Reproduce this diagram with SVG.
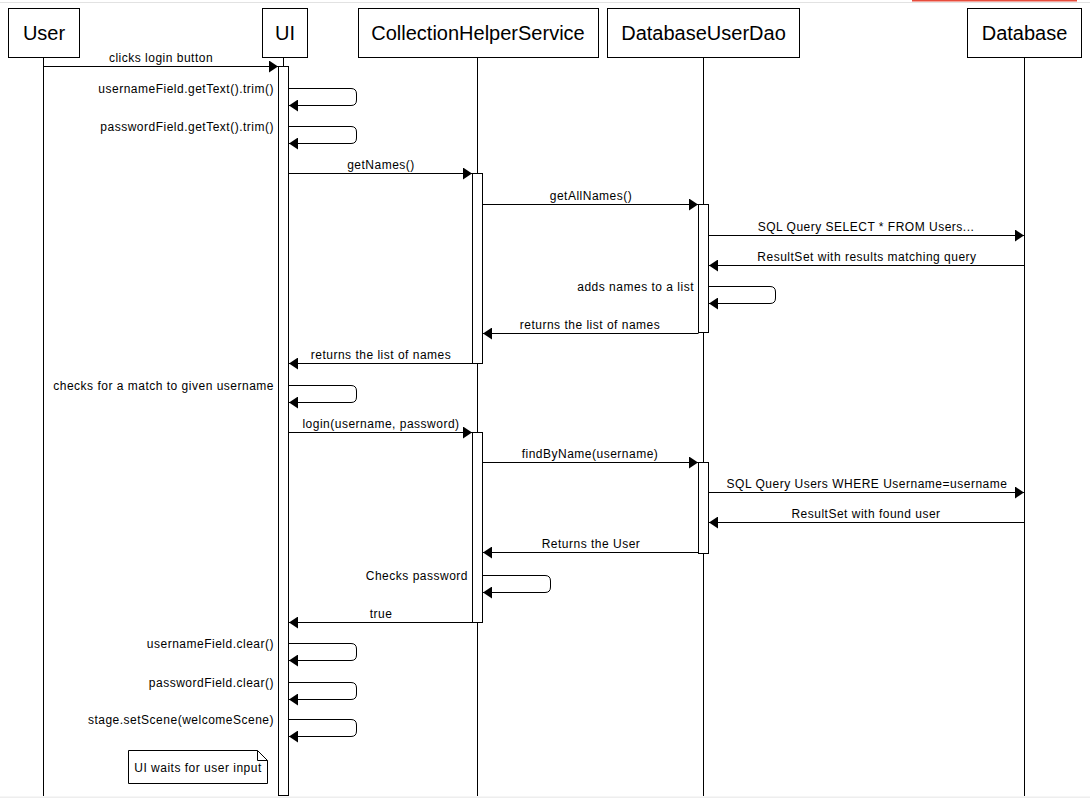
<svg xmlns="http://www.w3.org/2000/svg" width="1090" height="798" viewBox="0 0 1090 798">
<style>
.box{fill:#fff;stroke:#000;stroke-width:1}
.hd{font-family:"Liberation Sans",Arial,sans-serif;font-size:20px;text-anchor:middle;fill:#000}
.ll{stroke:#000;stroke-width:1;fill:none}
.act{fill:#fff;stroke:#000;stroke-width:1}
.msg{stroke:#000;stroke-width:1;fill:none}
.lb{font-family:"Liberation Sans",Arial,sans-serif;font-size:12px;letter-spacing:0.5px;fill:#000}
.c{text-anchor:middle}
.r{text-anchor:end}
</style>
<defs>
<marker id="ah" markerWidth="10" markerHeight="12" refX="9" refY="6" orient="auto" markerUnits="userSpaceOnUse">
<path d="M0,0 L9,6 L0,12 Z" fill="#000"/>
</marker>
</defs>
<rect x="0" y="0" width="1090" height="798" fill="#fff"/>
<rect x="0" y="2" width="1090" height="1" fill="#e2e2e2"/>
<rect x="912" y="0" width="165" height="1.5" fill="#e74c3c"/>
<rect x="0" y="796.5" width="1090" height="1.5" fill="#eeeeee"/>

<g id="lifelines">
<line class="ll" x1="43.5" y1="57" x2="43.5" y2="796"/>
<line class="ll" x1="283.5" y1="57" x2="283.5" y2="796"/>
<line class="ll" x1="477.5" y1="57" x2="477.5" y2="796"/>
<line class="ll" x1="703.5" y1="57" x2="703.5" y2="796"/>
<line class="ll" x1="1024.5" y1="57" x2="1024.5" y2="796"/>
</g>

<g id="node-user"><rect class="box" x="8.5" y="8.5" width="71" height="49"/><text class="hd" x="44" y="40">User</text></g>
<g id="node-ui"><rect class="box" x="262.5" y="8.5" width="45" height="49"/><text class="hd" x="285" y="40">UI</text></g>
<g id="node-chs"><rect class="box" x="358.5" y="8.5" width="240" height="49"/><text class="hd" x="478" y="40">CollectionHelperService</text></g>
<g id="node-dao"><rect class="box" x="607.5" y="8.5" width="192" height="49"/><text class="hd" x="703.5" y="40">DatabaseUserDao</text></g>
<g id="node-db"><rect class="box" x="967.5" y="8.5" width="114" height="49"/><text class="hd" x="1024.5" y="40">Database</text></g>

<g id="activations">
<rect class="act" x="278.5" y="66.5" width="10" height="729"/>
<rect class="act" x="472.5" y="173.5" width="10" height="190"/>
<rect class="act" x="698.5" y="204.5" width="10" height="128"/>
<rect class="act" x="472.5" y="432.5" width="10" height="190"/>
<rect class="act" x="698.5" y="462.5" width="10" height="91"/>
</g>

<g id="connectors">
<line class="msg" x1="43.5" y1="66.5" x2="278" y2="66.5" marker-end="url(#ah)"/>
<path class="msg" d="M288.5,88.5 H351 Q356.5,88.5 356.5,94 V100 Q356.5,105.5 351,105.5 H289" marker-end="url(#ah)"/>
<path class="msg" d="M288.5,126.5 H351 Q356.5,126.5 356.5,132 V138 Q356.5,143.5 351,143.5 H289" marker-end="url(#ah)"/>
<line class="msg" x1="288.5" y1="173.5" x2="472" y2="173.5" marker-end="url(#ah)"/>
<line class="msg" x1="482.5" y1="204.5" x2="698" y2="204.5" marker-end="url(#ah)"/>
<line class="msg" x1="708.5" y1="235.5" x2="1024" y2="235.5" marker-end="url(#ah)"/>
<line class="msg" x1="1024.5" y1="265.5" x2="709" y2="265.5" marker-end="url(#ah)"/>
<path class="msg" d="M708.5,286.5 H770 Q775.5,286.5 775.5,292 V298 Q775.5,303.5 770,303.5 H709" marker-end="url(#ah)"/>
<line class="msg" x1="698.5" y1="333.5" x2="483" y2="333.5" marker-end="url(#ah)"/>
<line class="msg" x1="472.5" y1="363.5" x2="289" y2="363.5" marker-end="url(#ah)"/>
<path class="msg" d="M288.5,385.5 H351 Q356.5,385.5 356.5,391 V397 Q356.5,402.5 351,402.5 H289" marker-end="url(#ah)"/>
<line class="msg" x1="288.5" y1="432.5" x2="472" y2="432.5" marker-end="url(#ah)"/>
<line class="msg" x1="482.5" y1="462.5" x2="698" y2="462.5" marker-end="url(#ah)"/>
<line class="msg" x1="708.5" y1="492.5" x2="1024" y2="492.5" marker-end="url(#ah)"/>
<line class="msg" x1="1024.5" y1="522.5" x2="709" y2="522.5" marker-end="url(#ah)"/>
<line class="msg" x1="698.5" y1="552.5" x2="483" y2="552.5" marker-end="url(#ah)"/>
<path class="msg" d="M482.5,575.5 H545 Q550.5,575.5 550.5,581 V587 Q550.5,592.5 545,592.5 H483" marker-end="url(#ah)"/>
<line class="msg" x1="472.5" y1="622.5" x2="289" y2="622.5" marker-end="url(#ah)"/>
<path class="msg" d="M288.5,643.5 H351 Q356.5,643.5 356.5,649 V655 Q356.5,660.5 351,660.5 H289" marker-end="url(#ah)"/>
<path class="msg" d="M288.5,682.5 H351 Q356.5,682.5 356.5,688 V694 Q356.5,699.5 351,699.5 H289" marker-end="url(#ah)"/>
<path class="msg" d="M288.5,719.5 H351 Q356.5,719.5 356.5,725 V731 Q356.5,736.5 351,736.5 H289" marker-end="url(#ah)"/>
</g>

<g id="labels">
<text class="lb c" x="161" y="62">clicks login button</text>
<text class="lb r" x="274" y="93">usernameField.getText().trim()</text>
<text class="lb r" x="274" y="131">passwordField.getText().trim()</text>
<text class="lb c" x="381" y="169">getNames()</text>
<text class="lb c" x="591" y="200">getAllNames()</text>
<text class="lb c" x="866" y="231">SQL Query SELECT * FROM Users...</text>
<text class="lb c" x="867" y="261">ResultSet with results matching query</text>
<text class="lb r" x="694" y="291">adds names to a list</text>
<text class="lb c" x="590" y="329">returns the list of names</text>
<text class="lb c" x="381" y="359">returns the list of names</text>
<text class="lb r" x="274" y="390">checks for a match to given username</text>
<text class="lb c" x="381" y="428">login(username, password)</text>
<text class="lb c" x="590" y="458">findByName(username)</text>
<text class="lb c" x="867" y="488">SQL Query Users WHERE Username=username</text>
<text class="lb c" x="866" y="518">ResultSet with found user</text>
<text class="lb c" x="591" y="548">Returns the User</text>
<text class="lb r" x="468" y="580">Checks password</text>
<text class="lb c" x="381" y="618">true</text>
<text class="lb r" x="274" y="648">usernameField.clear()</text>
<text class="lb r" x="274" y="687">passwordField.clear()</text>
<text class="lb r" x="274" y="724">stage.setScene(welcomeScene)</text>
</g>

<g id="note">
<path d="M128.5,750.5 H257.5 L267.5,760.5 V783.5 H128.5 Z" fill="#fff" stroke="#000" stroke-width="1"/>
<path d="M257.5,750.5 V760.5 H267.5" fill="none" stroke="#000" stroke-width="1"/>
<text class="lb c" x="198" y="772">UI waits for user input</text>
</g>
</svg>
